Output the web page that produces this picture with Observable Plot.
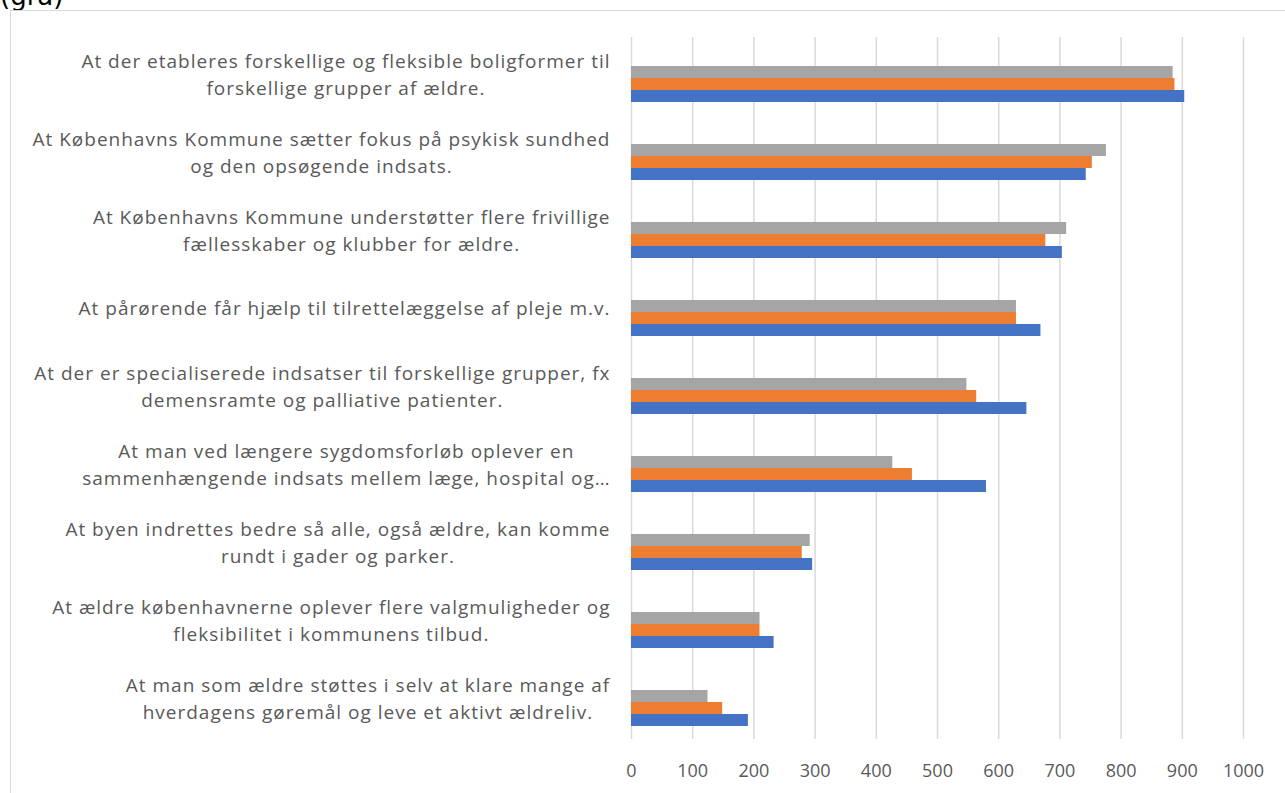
<!DOCTYPE html>
<html><head><meta charset="utf-8">
<script src="https://cdn.jsdelivr.net/npm/d3@7"></script>
<script src="https://cdn.jsdelivr.net/npm/@observablehq/plot@0.6"></script>
<style>
body{margin:0;width:1285px;height:793px;overflow:hidden;background:#fff;position:relative;font-family:"Open Sans";}
#title{position:absolute;left:0;top:-19px;font:26px "DejaVu Sans";color:#000;white-space:nowrap;}
#frame{position:absolute;left:10px;top:10px;width:1290px;height:800px;border:1px solid #d9d9d9;box-sizing:border-box;}
#chart{position:absolute;left:11px;top:11px;}
</style></head><body>
<div id="title">(grå)</div>
<div id="frame"></div>
<div id="chart"></div>
<script>
const categories = [
  "At der etableres forskellige og fleksible boligformer til\nforskellige grupper af ældre.",
  "At Københavns Kommune sætter fokus på psykisk sundhed\nog den opsøgende indsats.",
  "At Københavns Kommune understøtter flere frivillige\nfællesskaber og klubber for ældre.",
  "At pårørende får hjælp til tilrettelæggelse af pleje m.v.",
  "At der er specialiserede indsatser til forskellige grupper, fx\ndemensramte og palliative patienter.",
  "At man ved længere sygdomsforløb oplever en\nsammenhængende indsats mellem læge, hospital og…",
  "At byen indrettes bedre så alle, også ældre, kan komme\nrundt i gader og parker.",
  "At ældre københavnerne oplever flere valgmuligheder og\nfleksibilitet i kommunens tilbud.",
  "At man som ældre støttes i selv at klare mange af\nhverdagens gøremål og leve et aktivt ældreliv."
];
const seriesNames = ["grå", "orange", "blå"];
const seriesColors = ["#a5a5a5", "#ed7d31", "#4472c4"];
const grayValues   = [885, 776, 711, 629, 548, 427, 292, 210, 125];
const orangeValues = [888, 753, 677, 629, 564, 459, 279, 210, 149];
const blueValues   = [904, 743, 704, 669, 646, 580, 296, 233, 191];
const xTicks = [0, 100, 200, 300, 400, 500, 600, 700, 800, 900, 1000];

const valuesBySeries = {"grå": grayValues, "orange": orangeValues, "blå": blueValues};
const data = categories.flatMap((c, i) =>
  seriesNames.map(s => ({category: c, series: s, value: valuesBySeries[s][i]})));

const chart = Plot.plot({
  width: 1274, height: 782,
  marginLeft: 620, marginRight: 42, marginTop: 25, marginBottom: 54,
  style: {fontFamily: "Open Sans", background: "transparent", color: "#595959"},
  fy: {domain: categories, padding: 0, label: null, axis: null},
  y: {domain: seriesNames, paddingInner: 0, paddingOuter: 1.56, align: 0.68, axis: null},
  x: {domain: [0, 1000], label: null, axis: null},
  color: {domain: seriesNames, range: seriesColors},
  marks: [
    Plot.gridX(xTicks, {stroke: "#d9d9d9", strokeOpacity: 1, strokeWidth: 1.5}),
    Plot.barX(data, {fy: "category", y: "series", x: "value", fill: "series"}),
    Plot.axisX(xTicks, {tickSize: 0, tickPadding: 25, fontSize: 18, fill: "#595959", tickFormat: "d", label: null}),
    Plot.axisFy({anchor: "left", tickSize: 0, tickPadding: 21, dy: -4, fontSize: 19, fill: "#595959", lineHeight: 1.45, label: null})
  ]
});
document.getElementById("chart").appendChild(chart);

// centre the lines of each multi-line category label within its right-aligned block
chart.querySelectorAll('g[aria-label="fy-axis tick label"] text').forEach(t => {
  t.style.letterSpacing = "1px";
  const w = t.getBBox().width;
  t.setAttribute("text-anchor", "middle");
  const tr = t.getAttribute("transform") || "";
  t.setAttribute("transform", tr + ` translate(${-w / 2},0)`);
});
</script>
</body></html>
